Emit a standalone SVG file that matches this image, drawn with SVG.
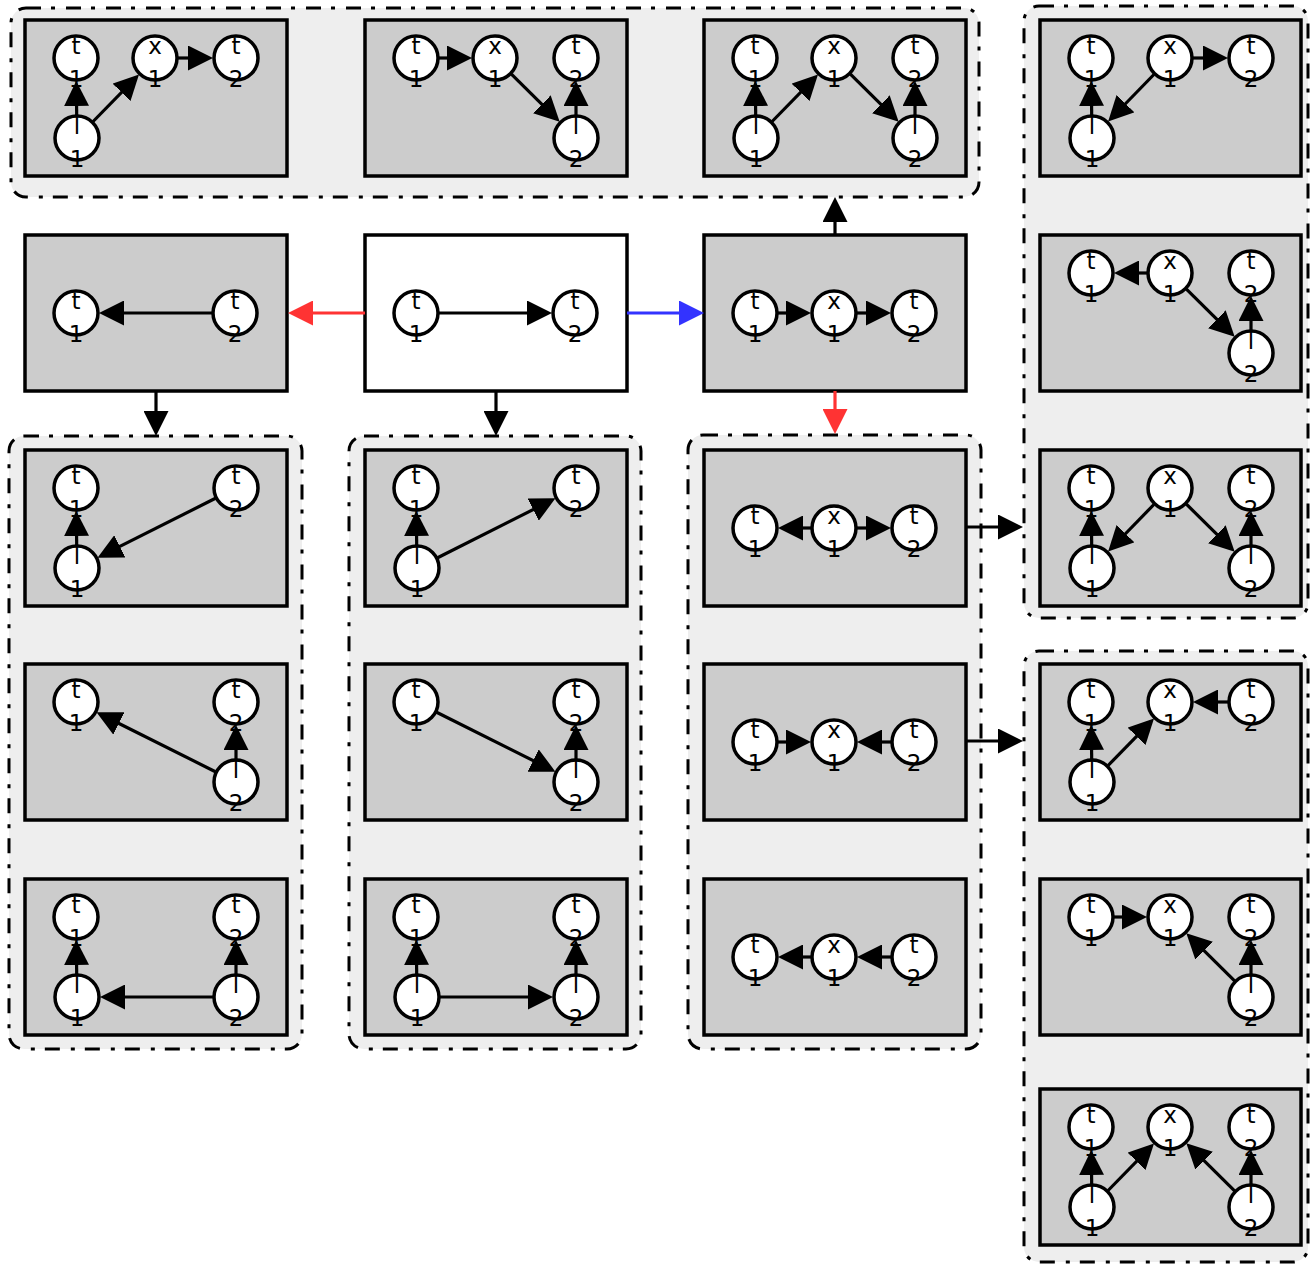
<svg xmlns="http://www.w3.org/2000/svg" width="1310" height="1266" viewBox="0 0 1310 1266">
<style>
.grp{fill:#eeeeee;stroke:#000;stroke-width:3;stroke-dasharray:15 10 4 11}
.pnl{fill:#cccccc;stroke:#000;stroke-width:3.5}
.wht{fill:#ffffff}
.nd circle{fill:#fff;stroke:#000;stroke-width:3.5}
text{font-family:"DejaVu Sans",sans-serif;font-size:23px;text-anchor:middle;fill:#000}
.e{stroke:#000;stroke-width:3.2;fill:none;marker-end:url(#ah)}
.er{stroke:#ff3333;stroke-width:3.2;fill:none;marker-end:url(#ahr)}
.eb{stroke:#3333ff;stroke-width:3.2;fill:none;marker-end:url(#ahb)}
</style>
<defs>
<marker id="ah" viewBox="0 0 25 25" markerWidth="25" markerHeight="25" markerUnits="userSpaceOnUse" refX="20" refY="12.5" orient="auto"><path d="M0,0 L25,12.5 L0,25 Z" fill="#000"/></marker>
<marker id="ahr" viewBox="0 0 25 25" markerWidth="25" markerHeight="25" markerUnits="userSpaceOnUse" refX="20" refY="12.5" orient="auto"><path d="M0,0 L25,12.5 L0,25 Z" fill="#ff3333"/></marker>
<marker id="ahb" viewBox="0 0 25 25" markerWidth="25" markerHeight="25" markerUnits="userSpaceOnUse" refX="20" refY="12.5" orient="auto"><path d="M0,0 L25,12.5 L0,25 Z" fill="#3333ff"/></marker>
</defs>

<g id="groups">
<rect id="grpTop" class="grp" x="11" y="8" width="968" height="189" rx="15"/>
<rect id="grpRight1" class="grp" x="1024" y="6" width="284" height="612" rx="15"/>
<rect id="grpRight2" class="grp" x="1024" y="651" width="284" height="611" rx="15"/>
<rect id="grpLeft" class="grp" x="9" y="436" width="293" height="613" rx="15"/>
<rect id="grpMid" class="grp" x="349" y="436" width="292" height="613" rx="15"/>
<rect id="grpRightMid" class="grp" x="688" y="435" width="293" height="614" rx="15"/>
</g>

<!-- Row 1 -->
<g id="pA1" transform="translate(25,20)">
<rect class="pnl" width="262" height="156"/>
<line class="e" x1="51.7" y1="95" x2="51.3" y2="66"/>
<line class="e" x1="68.1" y1="101.5" x2="110.5" y2="58.1"/>
<line class="e" x1="153" y1="38" x2="183" y2="38"/>
<g class="nd"><circle cx="51" cy="38" r="22"/><text x="51" y="34">t</text><text x="51" y="67">1</text></g>
<g class="nd"><circle cx="130" cy="38" r="22"/><text x="130" y="34">x</text><text x="130" y="67">1</text></g>
<g class="nd"><circle cx="211" cy="38" r="22"/><text x="211" y="34">t</text><text x="211" y="67">2</text></g>
<g class="nd"><circle cx="52" cy="118" r="22"/><text x="52" y="114">l</text><text x="52" y="147">1</text></g>
</g>

<g id="pB1" transform="translate(365,20)">
<rect class="pnl" width="262" height="156"/>
<line class="e" x1="74" y1="38" x2="102" y2="38"/>
<line class="e" x1="146.4" y1="54.2" x2="191.1" y2="98.3"/>
<line class="e" x1="211" y1="95" x2="211" y2="66"/>
<g class="nd"><circle cx="51" cy="38" r="22"/><text x="51" y="34">t</text><text x="51" y="67">1</text></g>
<g class="nd"><circle cx="130" cy="38" r="22"/><text x="130" y="34">x</text><text x="130" y="67">1</text></g>
<g class="nd"><circle cx="211" cy="38" r="22"/><text x="211" y="34">t</text><text x="211" y="67">2</text></g>
<g class="nd"><circle cx="211" cy="118" r="22"/><text x="211" y="114">l</text><text x="211" y="147">2</text></g>
</g>

<g id="pC1" transform="translate(704,20)">
<rect class="pnl" width="262" height="156"/>
<line class="e" x1="51.7" y1="95" x2="51.3" y2="66"/>
<line class="e" x1="68.1" y1="101.5" x2="110.5" y2="58.1"/>
<line class="e" x1="146.4" y1="54.2" x2="191.1" y2="98.3"/>
<line class="e" x1="211" y1="95" x2="211" y2="66"/>
<g class="nd"><circle cx="51" cy="38" r="22"/><text x="51" y="34">t</text><text x="51" y="67">1</text></g>
<g class="nd"><circle cx="130" cy="38" r="22"/><text x="130" y="34">x</text><text x="130" y="67">1</text></g>
<g class="nd"><circle cx="211" cy="38" r="22"/><text x="211" y="34">t</text><text x="211" y="67">2</text></g>
<g class="nd"><circle cx="52" cy="118" r="22"/><text x="52" y="114">l</text><text x="52" y="147">1</text></g>
<g class="nd"><circle cx="211" cy="118" r="22"/><text x="211" y="114">l</text><text x="211" y="147">2</text></g>
</g>

<g id="pD1" transform="translate(1040,20)">
<rect class="pnl" width="261" height="156"/>
<line class="e" x1="153" y1="38" x2="183" y2="38"/>
<line class="e" x1="113.9" y1="54.5" x2="71.6" y2="98"/>
<line class="e" x1="51.7" y1="95" x2="51.3" y2="66"/>
<g class="nd"><circle cx="51" cy="38" r="22"/><text x="51" y="34">t</text><text x="51" y="67">1</text></g>
<g class="nd"><circle cx="130" cy="38" r="22"/><text x="130" y="34">x</text><text x="130" y="67">1</text></g>
<g class="nd"><circle cx="211" cy="38" r="22"/><text x="211" y="34">t</text><text x="211" y="67">2</text></g>
<g class="nd"><circle cx="52" cy="118" r="22"/><text x="52" y="114">l</text><text x="52" y="147">1</text></g>
</g>

<!-- Row 2 -->
<g id="pA2" transform="translate(25,235)">
<rect class="pnl" width="262" height="156"/>
<line class="e" x1="187" y1="78" x2="79" y2="78"/>
<g class="nd"><circle cx="51" cy="78" r="22"/><text x="51" y="74">t</text><text x="51" y="107">1</text></g>
<g class="nd"><circle cx="210" cy="78" r="22"/><text x="210" y="74">t</text><text x="210" y="107">2</text></g>
</g>

<g id="pB2" transform="translate(365,235)">
<rect class="pnl wht" width="262" height="156"/>
<line class="e" x1="74" y1="78" x2="182" y2="78"/>
<g class="nd"><circle cx="51" cy="78" r="22"/><text x="51" y="74">t</text><text x="51" y="107">1</text></g>
<g class="nd"><circle cx="210" cy="78" r="22"/><text x="210" y="74">t</text><text x="210" y="107">2</text></g>
</g>

<g id="pC2" transform="translate(704,235)">
<rect class="pnl" width="262" height="156"/>
<line class="e" x1="74" y1="78" x2="102" y2="78"/>
<line class="e" x1="153" y1="78" x2="182" y2="78"/>
<g class="nd"><circle cx="51" cy="78" r="22"/><text x="51" y="74">t</text><text x="51" y="107">1</text></g>
<g class="nd"><circle cx="130" cy="78" r="22"/><text x="130" y="74">x</text><text x="130" y="107">1</text></g>
<g class="nd"><circle cx="210" cy="78" r="22"/><text x="210" y="74">t</text><text x="210" y="107">2</text></g>
</g>

<g id="pD2" transform="translate(1040,235)">
<rect class="pnl" width="261" height="156"/>
<line class="e" x1="107" y1="38" x2="79" y2="38"/>
<line class="e" x1="146.4" y1="54.2" x2="191.1" y2="98.3"/>
<line class="e" x1="211" y1="95" x2="211" y2="66"/>
<g class="nd"><circle cx="51" cy="38" r="22"/><text x="51" y="34">t</text><text x="51" y="67">1</text></g>
<g class="nd"><circle cx="130" cy="38" r="22"/><text x="130" y="34">x</text><text x="130" y="67">1</text></g>
<g class="nd"><circle cx="211" cy="38" r="22"/><text x="211" y="34">t</text><text x="211" y="67">2</text></g>
<g class="nd"><circle cx="211" cy="118" r="22"/><text x="211" y="114">l</text><text x="211" y="147">2</text></g>
</g>

<!-- Row 3 -->
<g id="pA3" transform="translate(25,450)">
<rect class="pnl" width="262" height="156"/>
<line class="e" x1="51.7" y1="95" x2="51.3" y2="66"/>
<line class="e" x1="190.5" y1="48.3" x2="77" y2="105.4"/>
<g class="nd"><circle cx="51" cy="38" r="22"/><text x="51" y="34">t</text><text x="51" y="67">1</text></g>
<g class="nd"><circle cx="211" cy="38" r="22"/><text x="211" y="34">t</text><text x="211" y="67">2</text></g>
<g class="nd"><circle cx="52" cy="118" r="22"/><text x="52" y="114">l</text><text x="52" y="147">1</text></g>
</g>

<g id="pB3" transform="translate(365,450)">
<rect class="pnl" width="262" height="156"/>
<line class="e" x1="51.7" y1="95" x2="51.3" y2="66"/>
<line class="e" x1="72.6" y1="107.7" x2="186" y2="50.6"/>
<g class="nd"><circle cx="51" cy="38" r="22"/><text x="51" y="34">t</text><text x="51" y="67">1</text></g>
<g class="nd"><circle cx="211" cy="38" r="22"/><text x="211" y="34">t</text><text x="211" y="67">2</text></g>
<g class="nd"><circle cx="52" cy="118" r="22"/><text x="52" y="114">l</text><text x="52" y="147">1</text></g>
</g>

<g id="pC3" transform="translate(704,450)">
<rect class="pnl" width="262" height="156"/>
<line class="e" x1="107" y1="78" x2="79" y2="78"/>
<line class="e" x1="153" y1="78" x2="182" y2="78"/>
<g class="nd"><circle cx="51" cy="78" r="22"/><text x="51" y="74">t</text><text x="51" y="107">1</text></g>
<g class="nd"><circle cx="130" cy="78" r="22"/><text x="130" y="74">x</text><text x="130" y="107">1</text></g>
<g class="nd"><circle cx="210" cy="78" r="22"/><text x="210" y="74">t</text><text x="210" y="107">2</text></g>
</g>

<g id="pD3" transform="translate(1040,450)">
<rect class="pnl" width="261" height="156"/>
<line class="e" x1="113.9" y1="54.5" x2="71.6" y2="98"/>
<line class="e" x1="51.7" y1="95" x2="51.3" y2="66"/>
<line class="e" x1="146.4" y1="54.2" x2="191.1" y2="98.3"/>
<line class="e" x1="211" y1="95" x2="211" y2="66"/>
<g class="nd"><circle cx="51" cy="38" r="22"/><text x="51" y="34">t</text><text x="51" y="67">1</text></g>
<g class="nd"><circle cx="130" cy="38" r="22"/><text x="130" y="34">x</text><text x="130" y="67">1</text></g>
<g class="nd"><circle cx="211" cy="38" r="22"/><text x="211" y="34">t</text><text x="211" y="67">2</text></g>
<g class="nd"><circle cx="52" cy="118" r="22"/><text x="52" y="114">l</text><text x="52" y="147">1</text></g>
<g class="nd"><circle cx="211" cy="118" r="22"/><text x="211" y="114">l</text><text x="211" y="147">2</text></g>
</g>

<!-- Row 4 -->
<g id="pA4" transform="translate(25,664)">
<rect class="pnl" width="262" height="156"/>
<line class="e" x1="211" y1="95" x2="211" y2="66"/>
<line class="e" x1="190.4" y1="107.7" x2="76" y2="50.5"/>
<g class="nd"><circle cx="51" cy="38" r="22"/><text x="51" y="34">t</text><text x="51" y="67">1</text></g>
<g class="nd"><circle cx="211" cy="38" r="22"/><text x="211" y="34">t</text><text x="211" y="67">2</text></g>
<g class="nd"><circle cx="211" cy="118" r="22"/><text x="211" y="114">l</text><text x="211" y="147">2</text></g>
</g>

<g id="pB4" transform="translate(365,664)">
<rect class="pnl" width="262" height="156"/>
<line class="e" x1="71.6" y1="48.3" x2="186" y2="105.5"/>
<line class="e" x1="211" y1="95" x2="211" y2="66"/>
<g class="nd"><circle cx="51" cy="38" r="22"/><text x="51" y="34">t</text><text x="51" y="67">1</text></g>
<g class="nd"><circle cx="211" cy="38" r="22"/><text x="211" y="34">t</text><text x="211" y="67">2</text></g>
<g class="nd"><circle cx="211" cy="118" r="22"/><text x="211" y="114">l</text><text x="211" y="147">2</text></g>
</g>

<g id="pC4" transform="translate(704,664)">
<rect class="pnl" width="262" height="156"/>
<line class="e" x1="74" y1="78" x2="102" y2="78"/>
<line class="e" x1="187" y1="78" x2="158" y2="78"/>
<g class="nd"><circle cx="51" cy="78" r="22"/><text x="51" y="74">t</text><text x="51" y="107">1</text></g>
<g class="nd"><circle cx="130" cy="78" r="22"/><text x="130" y="74">x</text><text x="130" y="107">1</text></g>
<g class="nd"><circle cx="210" cy="78" r="22"/><text x="210" y="74">t</text><text x="210" y="107">2</text></g>
</g>

<g id="pD4" transform="translate(1040,664)">
<rect class="pnl" width="261" height="156"/>
<line class="e" x1="51.7" y1="95" x2="51.3" y2="66"/>
<line class="e" x1="68.1" y1="101.5" x2="110.5" y2="58.1"/>
<line class="e" x1="188" y1="38" x2="158" y2="38"/>
<g class="nd"><circle cx="51" cy="38" r="22"/><text x="51" y="34">t</text><text x="51" y="67">1</text></g>
<g class="nd"><circle cx="130" cy="38" r="22"/><text x="130" y="34">x</text><text x="130" y="67">1</text></g>
<g class="nd"><circle cx="211" cy="38" r="22"/><text x="211" y="34">t</text><text x="211" y="67">2</text></g>
<g class="nd"><circle cx="52" cy="118" r="22"/><text x="52" y="114">l</text><text x="52" y="147">1</text></g>
</g>

<!-- Row 5 -->
<g id="pA5" transform="translate(25,879)">
<rect class="pnl" width="262" height="156"/>
<line class="e" x1="51.7" y1="95" x2="51.3" y2="66"/>
<line class="e" x1="211" y1="95" x2="211" y2="66"/>
<line class="e" x1="188" y1="118" x2="80" y2="118"/>
<g class="nd"><circle cx="51" cy="38" r="22"/><text x="51" y="34">t</text><text x="51" y="67">1</text></g>
<g class="nd"><circle cx="211" cy="38" r="22"/><text x="211" y="34">t</text><text x="211" y="67">2</text></g>
<g class="nd"><circle cx="52" cy="118" r="22"/><text x="52" y="114">l</text><text x="52" y="147">1</text></g>
<g class="nd"><circle cx="211" cy="118" r="22"/><text x="211" y="114">l</text><text x="211" y="147">2</text></g>
</g>

<g id="pB5" transform="translate(365,879)">
<rect class="pnl" width="262" height="156"/>
<line class="e" x1="51.7" y1="95" x2="51.3" y2="66"/>
<line class="e" x1="211" y1="95" x2="211" y2="66"/>
<line class="e" x1="75" y1="118" x2="183" y2="118"/>
<g class="nd"><circle cx="51" cy="38" r="22"/><text x="51" y="34">t</text><text x="51" y="67">1</text></g>
<g class="nd"><circle cx="211" cy="38" r="22"/><text x="211" y="34">t</text><text x="211" y="67">2</text></g>
<g class="nd"><circle cx="52" cy="118" r="22"/><text x="52" y="114">l</text><text x="52" y="147">1</text></g>
<g class="nd"><circle cx="211" cy="118" r="22"/><text x="211" y="114">l</text><text x="211" y="147">2</text></g>
</g>

<g id="pC5" transform="translate(704,879)">
<rect class="pnl" width="262" height="156"/>
<line class="e" x1="107" y1="78" x2="79" y2="78"/>
<line class="e" x1="187" y1="78" x2="158" y2="78"/>
<g class="nd"><circle cx="51" cy="78" r="22"/><text x="51" y="74">t</text><text x="51" y="107">1</text></g>
<g class="nd"><circle cx="130" cy="78" r="22"/><text x="130" y="74">x</text><text x="130" y="107">1</text></g>
<g class="nd"><circle cx="210" cy="78" r="22"/><text x="210" y="74">t</text><text x="210" y="107">2</text></g>
</g>

<g id="pD5" transform="translate(1040,879)">
<rect class="pnl" width="261" height="156"/>
<line class="e" x1="74" y1="38" x2="102" y2="38"/>
<line class="e" x1="194.6" y1="101.8" x2="149.9" y2="57.7"/>
<line class="e" x1="211" y1="95" x2="211" y2="66"/>
<g class="nd"><circle cx="51" cy="38" r="22"/><text x="51" y="34">t</text><text x="51" y="67">1</text></g>
<g class="nd"><circle cx="130" cy="38" r="22"/><text x="130" y="34">x</text><text x="130" y="67">1</text></g>
<g class="nd"><circle cx="211" cy="38" r="22"/><text x="211" y="34">t</text><text x="211" y="67">2</text></g>
<g class="nd"><circle cx="211" cy="118" r="22"/><text x="211" y="114">l</text><text x="211" y="147">2</text></g>
</g>

<!-- Row 6 -->
<g id="pD6" transform="translate(1040,1089)">
<rect class="pnl" width="261" height="156"/>
<line class="e" x1="51.7" y1="95" x2="51.3" y2="66"/>
<line class="e" x1="68.1" y1="101.5" x2="110.5" y2="58.1"/>
<line class="e" x1="194.6" y1="101.8" x2="149.9" y2="57.7"/>
<line class="e" x1="211" y1="95" x2="211" y2="66"/>
<g class="nd"><circle cx="51" cy="38" r="22"/><text x="51" y="34">t</text><text x="51" y="67">1</text></g>
<g class="nd"><circle cx="130" cy="38" r="22"/><text x="130" y="34">x</text><text x="130" y="67">1</text></g>
<g class="nd"><circle cx="211" cy="38" r="22"/><text x="211" y="34">t</text><text x="211" y="67">2</text></g>
<g class="nd"><circle cx="52" cy="118" r="22"/><text x="52" y="114">l</text><text x="52" y="147">1</text></g>
<g class="nd"><circle cx="211" cy="118" r="22"/><text x="211" y="114">l</text><text x="211" y="147">2</text></g>
</g>

<g id="connectors">
<line class="er" x1="365" y1="313" x2="293" y2="313"/>
<line class="eb" x1="627" y1="313" x2="699" y2="313"/>
<line class="e" x1="835" y1="234" x2="835" y2="202"/>
<line class="er" x1="835" y1="391" x2="835" y2="429"/>
<line class="e" x1="156" y1="391" x2="156" y2="431"/>
<line class="e" x1="496" y1="391" x2="496" y2="431"/>
<line class="e" x1="966" y1="527" x2="1018" y2="527"/>
<line class="e" x1="966" y1="741" x2="1018" y2="741"/>
</g>
</svg>
